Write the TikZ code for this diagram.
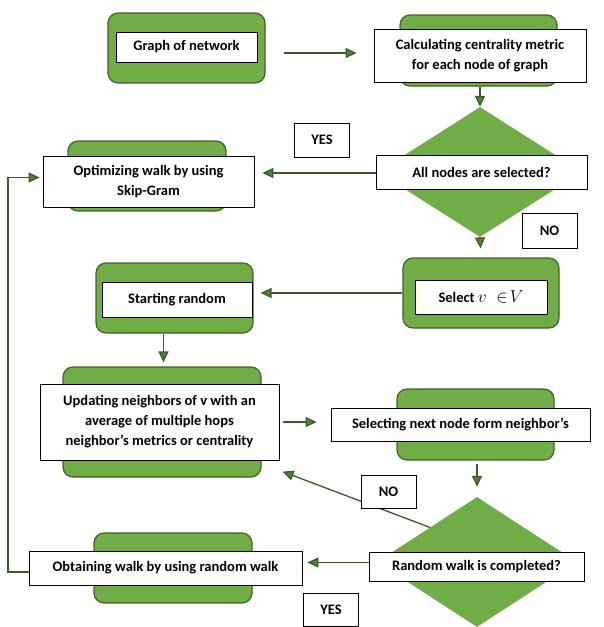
\documentclass[tikz,border=0pt]{standalone}
\usepackage{fontspec}
\setmainfont{Carlito}
\usetikzlibrary{arrows.meta,shapes.geometric}

\definecolor{boxgreen}{HTML}{70AD47}
\definecolor{edgegreen}{HTML}{3F6328}
\definecolor{linegreen}{HTML}{3A5A27}
\definecolor{tipgreen}{HTML}{548235}

\begin{document}
\begin{tikzpicture}[x=1pt, y=-1pt,
  bg/.style={draw=edgegreen, fill=boxgreen, line width=1.2pt, rounded corners=10pt, inner sep=0pt},
  dia/.style={draw=none, fill=boxgreen, diamond, inner sep=0pt},
  txt/.style={draw=black, fill=white, line width=0.8pt, inner sep=0pt, align=center,
              font=\fontsize{14.5}{20}\selectfont\bfseries},
  lbl/.style={txt, minimum width=55pt},
  arr/.style={draw=linegreen, line width=1.3pt, -{Triangle[length=11pt,width=10pt,fill=tipgreen]}}]

\useasboundingbox (0,0) rectangle (603,627);

% green boxes behind the texts
\node[bg, minimum width=157pt, minimum height=70pt] (graphbg) at (186.5,48) {};
\node[bg, minimum width=157pt, minimum height=71pt] (calcbg) at (478.5,50.5) {};
\node[bg, minimum width=158pt, minimum height=70pt] (optbg) at (147,176) {};
\node[bg, minimum width=156pt, minimum height=70pt] (pickbg) at (481,293) {};
\node[bg, minimum width=157pt, minimum height=70pt] (startbg) at (174.5,298) {};
\node[bg, minimum width=198pt, minimum height=110pt] (updbg) at (162,422) {};
\node[bg, minimum width=157pt, minimum height=71pt] (nextbg) at (475.5,424.5) {};
\node[bg, minimum width=158pt, minimum height=70pt] (obtbg) at (173,568) {};

% decisions
\node[dia, minimum width=204pt, minimum height=130pt] (selbg) at (480,172) {};
\node[dia, minimum width=200pt, minimum height=130pt] (donebg) at (477,562) {};

% texts
\node[txt, minimum width=141pt, minimum height=30pt] (graph) at (186.5,47) {Graph of network};
\node[txt, minimum width=212pt, minimum height=53pt] (calc) at (480,55.5) {Calculating centrality metric\\for each node of graph};
\node[txt, minimum width=211pt, minimum height=34pt] (sel) at (481.5,172) {All nodes are selected?};
\node[txt, minimum width=211pt, minimum height=51pt] (opt) at (148.5,181.5) {Optimizing walk by using\\Skip-Gram};
\node[txt, minimum width=132pt, minimum height=34pt] (pick) at (481,297) {Select {\fontsize{16}{16}\selectfont$v\;\in\!V$}};
\node[txt, minimum width=150pt, minimum height=35pt] (start) at (177,299.5) {Starting random};
\node[txt, minimum width=239pt, minimum height=76pt] (upd) at (159.5,422) {Updating neighbors of v with an\\average of multiple hops\\neighbor’s metrics or centrality};
\node[txt, minimum width=259pt, minimum height=33pt] (next) at (460.5,424.5) {Selecting next node form neighbor’s};
\node[txt, minimum width=215pt, minimum height=29pt] (done) at (476.5,566.5) {Random walk is completed?};
\node[txt, minimum width=273pt, minimum height=34pt] (obt) at (165.5,568) {Obtaining walk by using random walk};

% connectors
\draw[arr, shorten <=18pt, shorten >=17pt] ([yshift=-5pt]graphbg.east) -- ([yshift=-5pt]graphbg.east -| calc.west);
\draw[arr] (calcbg.south -| selbg.north) -- (selbg.north);
\draw[arr, shorten >=8pt] ([yshift=-1pt]sel.west) -- ([yshift=-1pt]sel.west -| opt.east);
\draw[arr, shorten >=9pt] (selbg.south) -- (pickbg.north);
\draw[arr, shorten >=7pt] (pickbg.west) -- (pickbg.west -| startbg.east);
\draw[arr, shorten >=4pt] ([xshift=-11pt]startbg.south) -- ([xshift=-11pt]startbg.south |- updbg.north);
\draw[arr, shorten <=4pt, shorten >=14pt] (upd.east) -- (upd.east -| next.west);
\draw[arr, shorten <=3pt, shorten >=10pt] (nextbg.south -| donebg.north) -- (donebg.north);
\draw[arr, shorten >=5pt] ([yshift=4pt]done.west) -- ([yshift=4pt]done.west -| obt.east);
\draw[arr] ([xshift=3pt,yshift=2pt]donebg.north west) -- ([xshift=21pt,yshift=6pt]updbg.south east);

% back to skip-gram
\coordinate (loop) at (8,0);
\draw[arr, shorten >=3pt] ([yshift=-4pt]obt.west) -- ([yshift=-4pt]obt.west -| loop) |- ([yshift=4pt]opt.west);

% yes / no labels
\node[lbl, minimum height=34pt] (yes1) at (322,140) {YES};
\node[lbl, minimum height=35pt] (no1) at (549.5,230.5) {NO};
\node[lbl, minimum height=33pt] (no2) at (388.5,491.5) {NO};
\node[lbl, minimum height=33pt] (yes2) at (331,610) {YES};

\end{tikzpicture}
\end{document}
